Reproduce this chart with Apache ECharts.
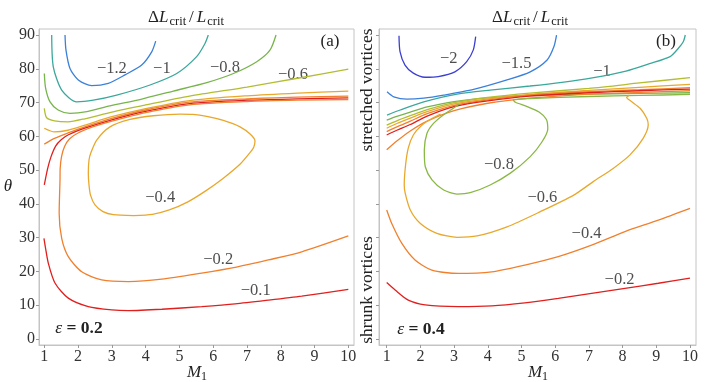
<!DOCTYPE html>
<html><head><meta charset="utf-8">
<script src="https://cdn.jsdelivr.net/npm/echarts@6/dist/echarts.min.js"></script>
<style>html,body{margin:0;padding:0;background:#fff}#c{width:717px;height:382px}</style>
</head><body><div id="c"></div>
<script>
// ---------- tick labels ----------
const xTicks = [1,2,3,4,5,6,7,8,9,10];
const yTicks = [0,10,20,30,40,50,60,70,80,90];

// ---------- panel (a), eps = 0.2 : contour lines [M1, theta] ----------
const a_m12 = [[1.613,90],[1.642,85.5],[1.76,80.1],[2.007,76.7],[2.403,75.0],[2.895,75.7],[3.389,78.2],[3.883,81.1],[4.179,85.0],[4.298,88.2]];
const a_m10 = [[1.219,90],[1.266,80.6],[1.515,73.7],[1.959,70.2],[2.451,70.7],[3.143,72.2],[4.129,75.2],[4.92,78.6],[5.51,83.6],[5.757,87.5],[5.855,90]];
const a_m08 = [[1.0,78.6],[1.04,74.2],[1.17,70.2],[1.41,67.8],[1.76,66.8],[2.26,67.3],[2.94,69.0],[3.83,70.9],[4.82,73.4],[5.81,75.9],[6.6,78.6],[7.29,82.1],[7.68,85.5],[7.86,90]];
const a_m06 = [[1.0,68.3],[1.07,65.5],[1.3,64.6],[1.7,64.3],[2.2,65.2],[3.0,67.2],[4.0,69.3],[5.3,71.9],[7.0,74.6],[8.5,77.2],[10,79.9]];
const a_m05 = [[1.0,62.4],[1.3,61.3],[1.7,61.8],[2.2,63.3],[3.0,65.8],[4.0,68.2],[5.3,70.6],[7.0,72.0],[8.5,72.8],[10,73.4]];
const a_o1  = [[1.0,57.7],[1.3,59.4],[1.7,61.0],[2.2,62.8],[3.0,65.3],[4.0,67.8],[5.3,70.1],[7.0,71.1],[8.5,71.6],[10,71.9]];
const a_r1  = [[1.0,45.6],[1.1,50.5],[1.2,54.0],[1.34,57.2],[1.5,59.0],[1.7,60.4],[2.2,62.4],[3.0,64.9],[4.0,67.4],[5.3,69.7],[7.0,70.7],[8.5,71.1],[10,71.4]];
const a_m02 = [[10,30.5],[8.62,25.8],[7.63,23.4],[6.65,21.2],[5.66,19.5],[4.48,17.7],[3.49,17.0],[2.7,17.5],[2.107,19.9],[1.71,24.4],[1.515,29.8],[1.44,37.2],[1.465,47.1],[1.47,50.5],[1.51,54],[1.6,57],[1.75,59.3],[2.0,61.0],[2.5,63.0],[3.0,64.5],[4.0,67.0],[5.3,69.3],[7.0,70.3],[8.5,70.7],[10,70.9]];
const a_m04 = [[3.64,36.5],[3.043,36.8],[2.738,37.7],[2.501,39.7],[2.368,42.6],[2.323,45.6],[2.303,49.1],[2.323,53.0],[2.374,55.0],[2.551,58.9],[2.945,62.8],[3.537,65.0],[4.227,66.1],[5.017,66.6],[5.4,66.5],[5.808,65.9],[6.299,64.7],[6.794,62.8],[7.1,60.6],[7.237,58.6],[7.2,56.8],[7.1,55.3],[6.8,51.8],[6.3,47.6],[5.8,44.0],[5.25,40.6],[4.7,38.2],[4.2,36.9],[3.64,36.5]];
const a_m01 = [[0.99,29.8],[1.03,27.3],[1.12,22.4],[1.32,16.5],[1.71,12.1],[2.30,9.6],[3.0,8.6],[3.49,8.4],[4.48,8.8],[5.66,9.6],[6.65,10.4],[7.63,11.5],[8.62,12.7],[10,14.7]];

// ---------- panel (b), eps = 0.4 ----------
const b_m20 = [[1.365,89.8],[1.395,85.1],[1.543,81.1],[1.79,78.7],[2.137,77.5],[2.53,77.7],[3.025,79.1],[3.374,82.1],[3.57,85.6],[3.64,89.5]];
const b_m15 = [[1.01,73.2],[1.21,71.7],[1.6,71.0],[2.1,71.3],[2.69,72.2],[3.58,73.9],[4.57,76.7],[5.26,79.1],[5.76,82.6],[5.96,86.5],[6.04,90]];
const b_m10 = [[1.01,66.3],[1.4,67.8],[2.1,70.2],[3.09,72.5],[4.07,73.7],[5.25,74.9],[6.2,76.0],[7.1,77.3],[8.1,79.3],[8.8,81.5],[9.41,83.6],[9.65,86.0],[9.8,88.0],[9.86,90]];
const b_g1  = [[1,64.8],[1.3,65.9],[1.7,67.2],[2.2,68.7],[3,70.3],[4,71.4],[5.25,72.1],[7,72.5],[8.5,72.7],[10,72.9]];
const b_yg  = [[1,63.3],[1.3,64.6],[1.7,66.1],[2.2,67.9],[3,70.0],[4,71.5],[5.25,72.8],[7,74.2],[8.5,75.8],[10,77.4]];
const b_oy  = [[1,62.4],[1.3,63.8],[1.7,65.4],[2.2,67.3],[3,69.6],[4,71.1],[5.25,72.4],[7,73.6],[8.5,74.5],[10,75.4]];
const b_o1  = [[1,61.4],[1.3,62.8],[1.7,64.5],[2.2,66.7],[3,69.2],[4,70.8],[5.25,72.2],[7,73.2],[8.5,73.8],[10,74.4]];
const b_r1  = [[1,60.4],[1.3,61.8],[1.7,63.5],[2.2,66.0],[3,68.8],[4,70.5],[5.25,71.9],[7,72.9],[8.5,73.5],[10,74.0]];
const b_o2  = [[1,56.0],[1.3,58.6],[1.7,61.6],[2.2,64.5],[3,67.6],[4,69.8],[5.25,71.3],[7,72.5],[8.5,73.0],[10,73.5]];
const b_m08 = [[3.15,69.6],[3.02,68.6],[2.69,66.4],[2.395,63.9],[2.196,60.9],[2.116,55.9],[2.145,51.0],[2.344,47.1],[2.69,44.1],[3.086,42.9],[3.48,43.3],[4.07,45.6],[4.67,49.1],[5.26,54.0],[5.61,58.4],[5.78,62.2],[5.74,65.0],[5.52,67.2],[5.15,68.9],[4.82,70.1],[4.75,70.8],[5.25,71.2],[7,71.8],[8.5,72.1],[10,72.4]];
const b_m06 = [[2.6,66.6],[2.34,65.3],[2.04,63.3],[1.79,60.4],[1.64,56.5],[1.56,51.5],[1.52,45.6],[1.55,43.1],[1.70,38.2],[2.0,34.2],[2.49,31.3],[3.09,30.1],[3.68,30.5],[4.57,33.2],[5.56,37.7],[6.55,42.6],[7.13,46.6],[7.72,50.5],[8.22,54.5],[8.61,59.4],[8.76,63.4],[8.72,65.3],[8.52,68.3],[8.25,70.4],[8.12,71.5],[8.2,72.2]];
const b_m04 = [[1.0,38.2],[1.15,34.2],[1.45,28.3],[1.84,23.4],[2.34,20.4],[3.12,19.4],[4.12,19.9],[5.10,21.9],[6.09,24.4],[7.08,27.8],[8.07,31.8],[9.06,35.2],[10,38.7]];
const b_m02 = [[1.0,16.7],[1.25,14.5],[1.64,11.5],[2.14,10.1],[3.12,9.6],[4.12,9.8],[5.10,10.7],[6.09,12.0],[7.08,13.5],[8.07,15.0],[9.06,16.5],[10,18.0]];

// ---------- contour labels [M1, theta, text] ----------
const a_labels = [[3.0,80.1,'−1.2'],[4.48,79.9,'−1'],[6.35,80.2,'−0.8'],[8.36,78.4,'−0.6'],[4.43,41.9,'−0.4'],[6.15,23.4,'−0.2'],[7.26,14.2,'−0.1']];
const b_labels = [[2.84,83.1,'−2'],[4.85,81.6,'−1.5'],[7.39,79.1,'−1'],[4.33,51.5,'−0.8'],[5.62,41.7,'−0.6'],[6.93,31.3,'−0.4'],[7.91,17.5,'−0.2']];

const C = {
  indigo:'#3c3fd2', blue:'#3b80da', teal:'#3ba89c', green:'#78b44c', yg:'#b3bd30',
  oy:'#e9a82c', orange:'#f0802e', red:'#e0201e'
};
const SERIF = '"Liberation Serif","DejaVu Serif",serif';

const aSeries = [
  [a_m12,C.blue],[a_m10,C.teal],[a_m08,C.green],[a_m06,C.yg],[a_m05,C.oy],
  [a_o1,C.orange],[a_r1,C.red],[a_m02,C.orange],[a_m04,C.oy],[a_m01,C.red]
];
const bSeries = [
  [b_m20,C.indigo],[b_m15,C.blue],[b_m10,C.teal],[b_g1,C.green],[b_yg,C.yg],[b_oy,C.oy],
  [b_o1,C.orange],[b_r1,C.red],[b_o2,C.orange],[b_m08,'#8ab844'],[b_m06,C.oy],[b_m04,C.orange],[b_m02,C.red]
];

function lineSeries(list, idx){
  return list.map(([d,col]) => ({
    type:'line', xAxisIndex:idx, yAxisIndex:idx, data:d, showSymbol:false, symbol:'none',
    smooth:0.25, lineStyle:{color:col, width:1.3}, silent:true, animation:false
  }));
}
function labelSeries(d, idx){
  return {
    type:'scatter', xAxisIndex:idx, yAxisIndex:idx, data:d, symbolSize:0, silent:true, animation:false,
    label:{show:true, position:'inside', formatter:p=>p.data[2], fontFamily:SERIF, fontSize:16.5, color:'#222'}
  };
}

const yMin = -1.78, yMax = 91.78;
function xAxisCfg(idx, min, max){
  return {type:'value', gridIndex:idx, min, max,
    axisLine:{show:true, onZero:false, lineStyle:{color:'#c4c4c4'}},
    axisTick:{show:true, inside:false, length:3, lineStyle:{color:'#999'}, customValues:xTicks},
    axisLabel:{customValues:xTicks, fontFamily:SERIF, fontSize:16, color:'#333', margin:4},
    splitLine:{show:false}};
}
function yAxisCfg(idx, showLabel){
  return {type:'value', gridIndex:idx, min:yMin, max:yMax,
    axisLine:{show:true, onZero:false, lineStyle:{color:'#c4c4c4'}},
    axisTick:{show:true, inside:false, length:3, lineStyle:{color:'#999'}, customValues:yTicks},
    axisLabel:{show:showLabel, customValues:yTicks, fontFamily:SERIF, fontSize:16, color:'#333', margin:4},
    splitLine:{show:false}};
}

const titleRich = {
  d:{fontFamily:SERIF, fontSize:17, color:'#222'},
  sl:{fontFamily:SERIF, fontSize:17, color:'#222', padding:[0,3,0,3]},
  L:{fontFamily:SERIF, fontSize:17, fontStyle:'italic', color:'#222'},
  s:{fontFamily:SERIF, fontSize:12.5, color:'#222', padding:[8,0,0,1]}
};
const mRich = {
  L:{fontFamily:SERIF, fontSize:17, fontStyle:'italic', color:'#222'},
  s:{fontFamily:SERIF, fontSize:12, color:'#222', padding:[8,0,0,0]}
};
const eRich = {
  e:{fontFamily:SERIF, fontSize:17.5, fontStyle:'italic', color:'#111'},
  b:{fontFamily:SERIF, fontSize:17.5, fontWeight:'bold', color:'#111'}
};
function txt(x,y,text,rich,extra){
  return Object.assign({type:'text', x, y, silent:true,
    style:{text, rich, align:'center', verticalAlign:'middle', fontFamily:SERIF, fontSize:15, fill:'#222'}}, extra||{});
}
function plain(x,y,text,size,rot){
  const o = {type:'text', x, y, silent:true,
    style:{text, align:'center', verticalAlign:'middle', fontFamily:SERIF, fontSize:size, fill:'#222'}};
  if (rot) o.rotation = rot;
  return o;
}

const option = {
  animation:false,
  backgroundColor:'#fff',
  grid:[
    {left:39, top:29, width:315, height:316, show:true, borderColor:'#c4c4c4', borderWidth:1},
    {left:379, top:29, width:317, height:316, show:true, borderColor:'#c4c4c4', borderWidth:1}
  ],
  xAxis:[xAxisCfg(0,0.843,10.168), xAxisCfg(1,0.7715,10.178)],
  yAxis:[yAxisCfg(0,true), yAxisCfg(1,false)],
  series:[].concat(lineSeries(aSeries,0), lineSeries(bSeries,1), [labelSeries(a_labels,0), labelSeries(b_labels,1)]),
  graphic:[
    txt(186,18,'{d|Δ}{L|L}{s|crit}{sl|/}{L|L}{s|crit}',titleRich),
    txt(530,18,'{d|Δ}{L|L}{s|crit}{sl|/}{L|L}{s|crit}',titleRich),
    txt(197,373,'{L|M}{s|1}',mRich),
    txt(538,373,'{L|M}{s|1}',mRich),
    txt(8,187,'{L|θ}',mRich),
    plain(330,42,'(a)',17),
    plain(666,42,'(b)',17),
    txt(79,328,'{e|ε}{b| = 0.2}',eRich),
    txt(421,329,'{e|ε}{b| = 0.4}',eRich),
    plain(367,90,'stretched vortices',17.5,Math.PI/2),
    plain(367,290,'shrunk vortices',17.5,Math.PI/2)
  ]
};
const chart = echarts.init(document.getElementById('c'), null, {renderer:'canvas'});
chart.setOption(option);
</script>
</body></html>
